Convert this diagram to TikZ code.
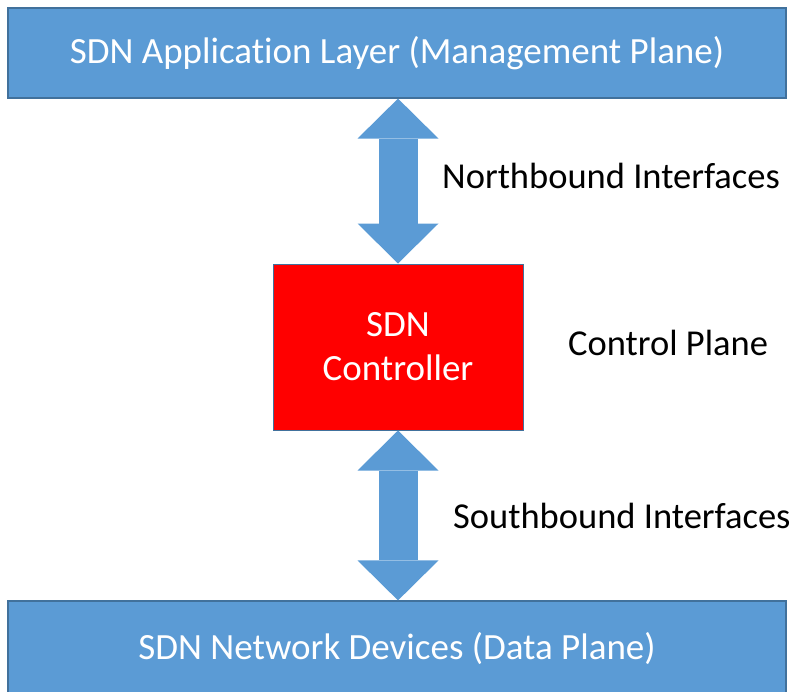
\documentclass[tikz,border=0pt]{standalone}
\usepackage{fontspec}
\setmainfont{Carlito}[Ligatures=CommonOff]
\usetikzlibrary{arrows.meta,positioning}
\definecolor{layerblue}{HTML}{5B9BD5}
\definecolor{layeredge}{HTML}{41719C}
\definecolor{ctrlred}{HTML}{FF0000}
\tikzset{>=stealth}

\begin{document}
\begin{tikzpicture}[x=1pt,y=-1pt,
    layer/.style={draw=layeredge, line width=1.2pt, fill=layerblue, text=white,
        minimum width=778pt, minimum height=90pt, inner sep=0pt,
        font=\fontsize{37}{44}\selectfont},
    ctrlbox/.style={draw=layeredge, line width=1pt, fill=ctrlred, text=white,
        minimum width=250pt, minimum height=166pt, inner sep=0pt, align=center,
        font=\fontsize{37}{44}\selectfont},
    iface/.style={draw=layerblue, line width=39pt,
        {Triangle[length=40pt,width=81pt,line width=0pt]}-{Triangle[length=40pt,width=81pt,line width=0pt]}},
    lbl/.style={anchor=base west, inner sep=0pt, font=\fontsize{36.5}{44}\selectfont}]
    \useasboundingbox (0,0) rectangle (797,691);
    % layers
    \node[layer] (app) at (397,53) {SDN Application Layer (Management Plane)};
    \node[ctrlbox] (ctrl) at (398,347) {SDN\\Controller};
    \node[layer, minimum height=96pt] (dev) at (397,649) {SDN Network Devices (Data Plane)};
    % interfaces
    \draw[iface] (app.south -| ctrl.north) -- (ctrl.north);
    \draw[iface] (ctrl.south) -- (dev.north -| ctrl.south);
    % labels
    \node[lbl] (nb) at (442,188) {Northbound Interfaces};
    \node[lbl] (cp) at (568,355) {Control Plane};
    \node[lbl] (sb) at (453,528) {Southbound Interfaces};
\end{tikzpicture}
\end{document}
